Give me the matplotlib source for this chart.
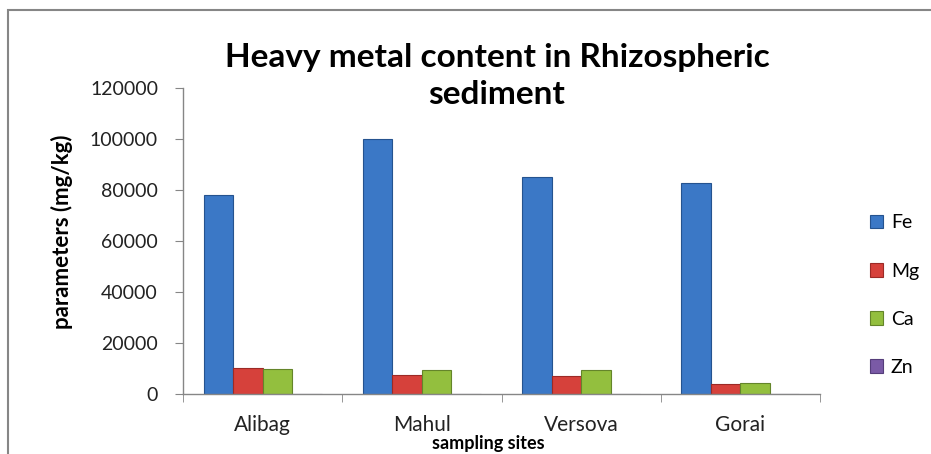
import matplotlib.pyplot as plt
import numpy as np
from matplotlib.patches import Rectangle

plt.rcParams['font.family'] = ['Lato', 'DejaVu Sans']

sites = ['Alibag', 'Mahul', 'Versova', 'Gorai']
metals = ['Fe', 'Mg', 'Ca', 'Zn']
fe = [78000, 100000, 85100, 82700]
mg = [10200, 7450, 7000, 3900]
ca = [9800, 9400, 9400, 4300]
zn = [150, 120, 130, 100]
yticks = [0, 20000, 40000, 60000, 80000, 100000, 120000]

colors = ['#3b78c6', '#d6413b', '#93bf3e', '#7a5aa6']
edges = ['#25538f', '#9c2a26', '#64852a', '#553d7a']

fig = plt.figure(figsize=(9.31, 4.54), dpi=100)
ax = fig.add_axes([183/931, 60/454, 637/931, 306/454])

x = np.arange(len(sites))
w = 0.185
series = [fe, mg, ca, zn]
for i, vals in enumerate(series):
    ax.bar(x - 1.5*w + i*w, vals, w, color=colors[i], edgecolor=edges[i],
           linewidth=0.8, label=metals[i])

ax.set_xlim(-0.5, 3.5)
ax.set_ylim(0, 120000)
ax.set_yticks(yticks)
ax.set_yticklabels([str(v) for v in yticks], fontsize=14, color='#222222')
ax.set_xticks(x)
ax.set_xticklabels(sites, fontsize=15, color='#222222')
ax.set_xticks(np.arange(-0.5, 4, 1), minor=True)
ax.tick_params(axis='x', which='major', length=0, pad=15)
ax.tick_params(axis='x', which='minor', length=6, color='#868686', direction='out')
ax.tick_params(axis='y', length=6, color='#868686', pad=12)

for s in ['top', 'right']:
    ax.spines[s].set_visible(False)
for s in ['left', 'bottom']:
    ax.spines[s].set_color('#868686')
    ax.spines[s].set_linewidth(1)

fig.text(497/931, 1 - 76/454, 'Heavy metal content in Rhizospheric\nsediment',
         ha='center', va='center', fontsize=24, fontweight='bold',
         linespacing=1.3)
fig.text(62/931, 1 - 232/454, 'parameters (mg/kg)', rotation=90,
         ha='center', va='center', fontsize=16, fontweight='bold')
fig.text(488/931, 1 - 444/454, 'sampling sites', ha='center', va='center',
         fontsize=13, fontweight='bold')

ax.legend(loc='upper left', bbox_to_anchor=(852/931, 1 - 197/454),
          bbox_transform=fig.transFigure, frameon=False, fontsize=14,
          handlelength=0.7, handleheight=0.7, handletextpad=0.4,
          labelspacing=1.6)

fig.patches.append(Rectangle((8/931, -0.1), 1.2, 1 - 10/454 + 0.1,
                             transform=fig.transFigure, fill=False,
                             edgecolor='#868686', linewidth=1.5))

fig.savefig('out.png', dpi=100)
